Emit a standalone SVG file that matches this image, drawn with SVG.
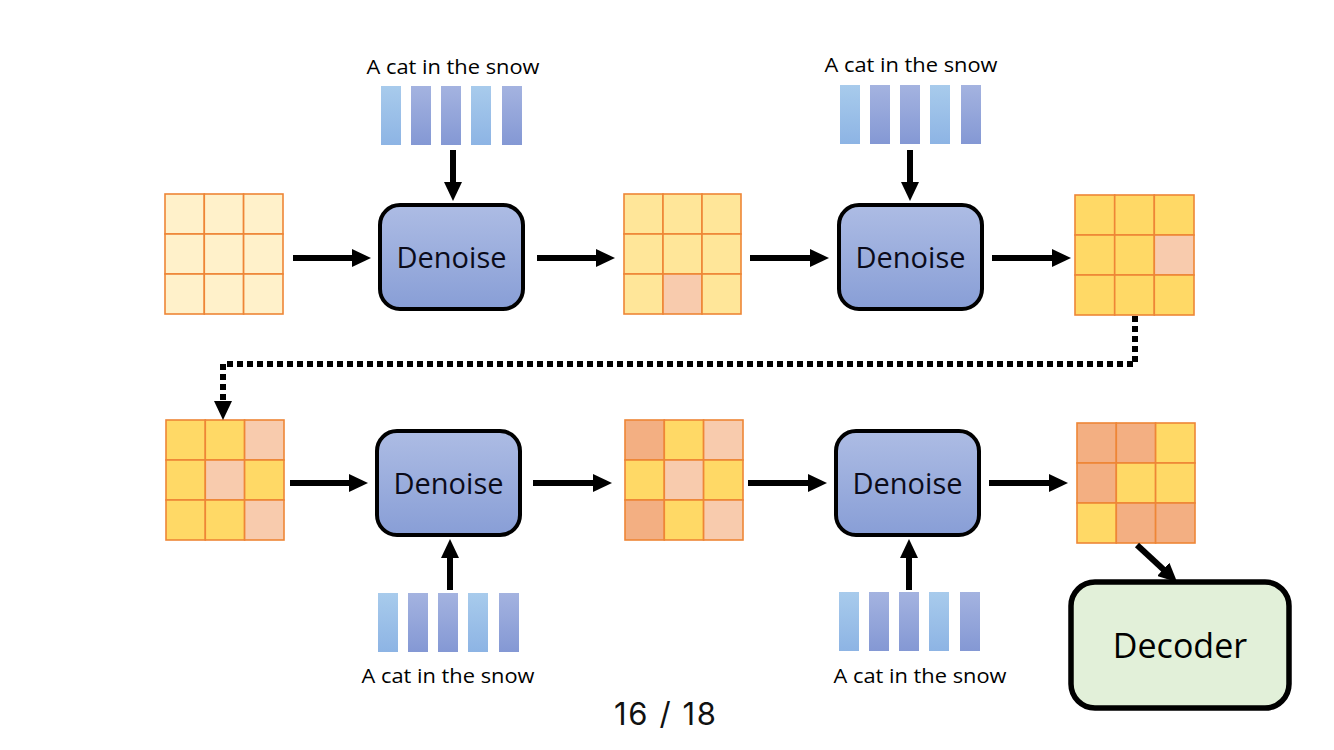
<svg xmlns="http://www.w3.org/2000/svg" width="1334" height="750" viewBox="0 0 1334 750">
<defs>
<linearGradient id="gDen" x1="0" y1="0" x2="0" y2="1"><stop offset="0" stop-color="#ADBCE4"/><stop offset="1" stop-color="#889ED6"/></linearGradient>
<linearGradient id="gTokL" x1="0" y1="0" x2="0" y2="1"><stop offset="0" stop-color="#A8CBEC"/><stop offset="1" stop-color="#8DB4E4"/></linearGradient>
<linearGradient id="gTokD" x1="0" y1="0" x2="0" y2="1"><stop offset="0" stop-color="#A4B3E0"/><stop offset="1" stop-color="#8498D4"/></linearGradient>
<marker id="ah" markerUnits="userSpaceOnUse" viewBox="0 0 19 18" refX="1" refY="9" markerWidth="19" markerHeight="18" orient="auto"><path d="M0,0 L19,9 L0,18 Z" fill="#000"/></marker>
<g id="tokens">
<rect x="0" y="0" width="20" height="59" fill="url(#gTokL)"/>
<rect x="30" y="0" width="20" height="59" fill="url(#gTokD)"/>
<rect x="60" y="0" width="20" height="59" fill="url(#gTokD)"/>
<rect x="90" y="0" width="20" height="59" fill="url(#gTokL)"/>
<rect x="121" y="0" width="20" height="59" fill="url(#gTokD)"/>
</g>
</defs>
<style>
.lbl{font-family:"Open Sans","Liberation Sans",sans-serif;font-size:20.5px;fill:#000;text-anchor:middle}
.den{font-family:"Open Sans","Liberation Sans",sans-serif;font-size:29px;fill:#0b0b1a;text-anchor:middle}
.box{fill:url(#gDen);stroke:#000;stroke-width:4}
.tok rect{stroke:#5B84C8;stroke-width:1}
.grid rect{stroke:#EE8636;stroke-width:1.6}
.a{fill:#FFF1CA}.b{fill:#FFE699}.y{fill:#FFD966}.p{fill:#F8CBAD}.o{fill:#F3AF82}
.conn{stroke:#000;stroke-width:6;fill:none}
</style>
<rect width="1334" height="750" fill="#fff"/>

<g id="grid1" class="grid">
<rect class="a" x="165" y="194" width="39.3" height="40"/><rect class="a" x="204.3" y="194" width="39.3" height="40"/><rect class="a" x="243.6" y="194" width="39.4" height="40"/>
<rect class="a" x="165" y="234" width="39.3" height="40"/><rect class="a" x="204.3" y="234" width="39.3" height="40"/><rect class="a" x="243.6" y="234" width="39.4" height="40"/>
<rect class="a" x="165" y="274" width="39.3" height="40"/><rect class="a" x="204.3" y="274" width="39.3" height="40"/><rect class="a" x="243.6" y="274" width="39.4" height="40"/>
</g>
<g id="grid2" class="grid">
<rect class="b" x="624" y="194" width="39" height="40"/><rect class="b" x="663" y="194" width="39" height="40"/><rect class="b" x="702" y="194" width="39" height="40"/>
<rect class="b" x="624" y="234" width="39" height="40"/><rect class="b" x="663" y="234" width="39" height="40"/><rect class="b" x="702" y="234" width="39" height="40"/>
<rect class="b" x="624" y="274" width="39" height="40"/><rect class="p" x="663" y="274" width="39" height="40"/><rect class="b" x="702" y="274" width="39" height="40"/>
</g>
<g id="grid3" class="grid">
<rect class="y" x="1075" y="195" width="39.7" height="40"/><rect class="y" x="1114.7" y="195" width="39.6" height="40"/><rect class="y" x="1154.3" y="195" width="39.7" height="40"/>
<rect class="y" x="1075" y="235" width="39.7" height="40"/><rect class="y" x="1114.7" y="235" width="39.6" height="40"/><rect class="p" x="1154.3" y="235" width="39.7" height="40"/>
<rect class="y" x="1075" y="275" width="39.7" height="40"/><rect class="y" x="1114.7" y="275" width="39.6" height="40"/><rect class="y" x="1154.3" y="275" width="39.7" height="40"/>
</g>
<g id="grid4" class="grid">
<rect class="y" x="166" y="420" width="39.3" height="40"/><rect class="y" x="205.3" y="420" width="39.3" height="40"/><rect class="p" x="244.6" y="420" width="39.4" height="40"/>
<rect class="y" x="166" y="460" width="39.3" height="40"/><rect class="p" x="205.3" y="460" width="39.3" height="40"/><rect class="y" x="244.6" y="460" width="39.4" height="40"/>
<rect class="y" x="166" y="500" width="39.3" height="40"/><rect class="y" x="205.3" y="500" width="39.3" height="40"/><rect class="p" x="244.6" y="500" width="39.4" height="40"/>
</g>
<g id="grid5" class="grid">
<rect class="o" x="625" y="420" width="39.3" height="40"/><rect class="y" x="664.3" y="420" width="39.3" height="40"/><rect class="p" x="703.6" y="420" width="39.4" height="40"/>
<rect class="y" x="625" y="460" width="39.3" height="40"/><rect class="p" x="664.3" y="460" width="39.3" height="40"/><rect class="y" x="703.6" y="460" width="39.4" height="40"/>
<rect class="o" x="625" y="500" width="39.3" height="40"/><rect class="y" x="664.3" y="500" width="39.3" height="40"/><rect class="p" x="703.6" y="500" width="39.4" height="40"/>
</g>
<g id="grid6" class="grid">
<rect class="o" x="1077" y="423" width="39.3" height="40"/><rect class="o" x="1116.3" y="423" width="39.3" height="40"/><rect class="y" x="1155.6" y="423" width="39.4" height="40"/>
<rect class="o" x="1077" y="463" width="39.3" height="40"/><rect class="y" x="1116.3" y="463" width="39.3" height="40"/><rect class="y" x="1155.6" y="463" width="39.4" height="40"/>
<rect class="y" x="1077" y="503" width="39.3" height="40"/><rect class="o" x="1116.3" y="503" width="39.3" height="40"/><rect class="o" x="1155.6" y="503" width="39.4" height="40"/>
</g>

<g id="denoise1"><rect class="box" x="380" y="205" width="143" height="104" rx="20"/><text class="den" x="451.5" y="268">Denoise</text></g>
<g id="denoise2"><rect class="box" x="839" y="205" width="143" height="104" rx="20"/><text class="den" x="910.5" y="268">Denoise</text></g>
<g id="denoise3"><rect class="box" x="377" y="431" width="143" height="104" rx="20"/><text class="den" x="448.5" y="494">Denoise</text></g>
<g id="denoise4"><rect class="box" x="836" y="431" width="143" height="104" rx="20"/><text class="den" x="907.5" y="494">Denoise</text></g>

<g id="decoder"><rect x="1071" y="582" width="218" height="126" rx="24" fill="#E2F0D9" stroke="#000" stroke-width="5.5"/><text x="1180" y="658" font-family="'Open Sans','Liberation Sans',sans-serif" font-size="34" text-anchor="middle" fill="#000">Decoder</text></g>

<g id="prompt1"><text class="lbl" x="453" y="74" textLength="173" lengthAdjust="spacingAndGlyphs">A cat in the snow</text><use href="#tokens" class="tok" x="381" y="86"/></g>
<g id="prompt2"><text class="lbl" x="911" y="72" textLength="173" lengthAdjust="spacingAndGlyphs">A cat in the snow</text><use href="#tokens" class="tok" x="840" y="85"/></g>
<g id="prompt3"><use href="#tokens" class="tok" x="378" y="593"/><text class="lbl" x="448" y="683" textLength="173" lengthAdjust="spacingAndGlyphs">A cat in the snow</text></g>
<g id="prompt4"><use href="#tokens" class="tok" x="839" y="592"/><text class="lbl" x="920" y="683" textLength="173" lengthAdjust="spacingAndGlyphs">A cat in the snow</text></g>

<g id="connectors" class="conn" marker-end="url(#ah)">
<line x1="293" y1="258" x2="353" y2="258"/>
<line x1="537" y1="258" x2="597" y2="258"/>
<line x1="750" y1="258" x2="811" y2="258"/>
<line x1="992" y1="258" x2="1053" y2="258"/>
<line x1="453" y1="150" x2="453" y2="183"/>
<line x1="910" y1="150" x2="910" y2="183"/>
<line x1="290" y1="483" x2="350" y2="483"/>
<line x1="533" y1="483" x2="594" y2="483"/>
<line x1="748" y1="483" x2="809" y2="483"/>
<line x1="989" y1="483" x2="1050" y2="483"/>
<line x1="450" y1="590" x2="450" y2="557"/>
<line x1="909" y1="590" x2="909" y2="557"/>
<line x1="1137" y1="545" x2="1164" y2="570"/>
<polyline points="1135,316 1135,364 223,364 223,402" stroke-dasharray="6 4"/>
</g>

<text x="665" y="725" font-family="Inter,'Liberation Sans',sans-serif" font-size="31" text-anchor="middle" fill="#111" textLength="102">16 / 18</text>
</svg>
